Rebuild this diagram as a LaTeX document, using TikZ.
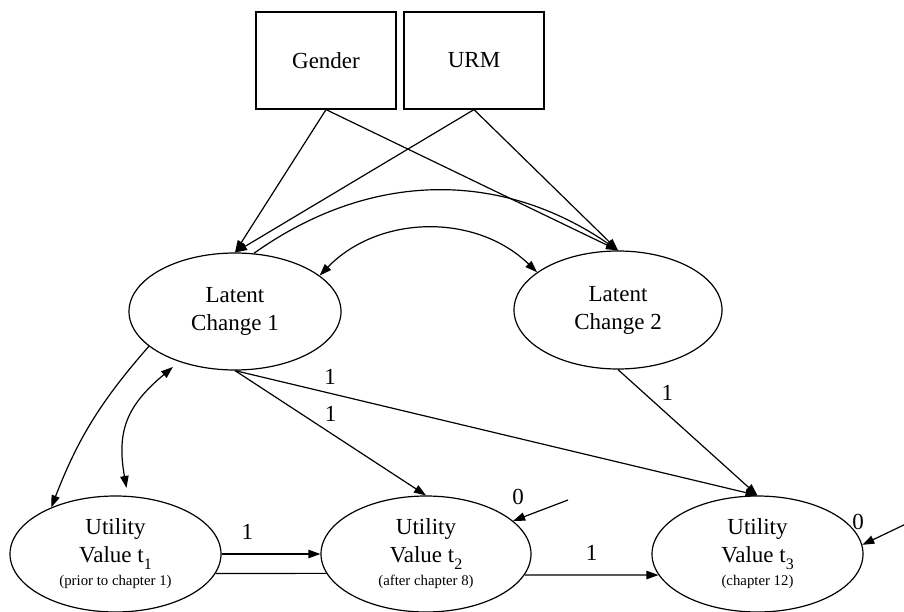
\documentclass[tikz,border=0pt]{standalone}
\usepackage{fontspec}
\setmainfont{Liberation Serif}
\usepackage{tikz}
\usetikzlibrary{arrows.meta,shapes,calc}
\newcommand{\sm}{\fontsize{7.4}{8.5}\selectfont}
\newcommand{\tsub}[1]{\raisebox{-3.5pt}[0pt][0pt]{\fontsize{8}{8}\selectfont #1}}

\begin{document}
\begin{tikzpicture}[x=0.5pt, y=0.5pt, line width=0.6pt,
  every node/.style={font=\fontsize{11.5}{14}\selectfont},
  obs/.style={draw, rectangle, minimum width=70pt, minimum height=48.5pt, inner sep=0pt},
  lat/.style={draw, ellipse, align=center, inner sep=0pt},
  arr/.style={-{Triangle[length=6pt,width=4.2pt]}},
  arrr/.style={{Triangle[length=6pt,width=4.2pt]}-{Triangle[length=6pt,width=4.2pt]}},
  lbl/.style={inner sep=1pt}]

\useasboundingbox (0,0) rectangle (904,611);

% covariates
\node[obs] (gender) at (326,550.5) {Gender};
\node[obs] (urm) at (474,550.5) {URM};

% latent change scores
\node[lat, minimum width=106pt, minimum height=58.5pt] (lc1) at (235,299.5) {Latent\\Change 1};
\node[lat, minimum width=104pt, minimum height=59pt] (lc2) at (618,301) {Latent\\Change 2};

% observed utility value
\node[lat, minimum width=105.5pt, minimum height=58pt] (uv1) at (115.5,57) {Utility\\Value t\tsub{1}\\[-2.5pt]\sm (prior to chapter 1)};
\node[lat, minimum width=105pt, minimum height=58pt] (uv2) at (426,57) {Utility\\Value t\tsub{2}\\[-2.5pt]\sm (after chapter 8)};
\node[lat, minimum width=105.5pt, minimum height=58pt] (uv3) at (757.5,57) {Utility\\Value t\tsub{3}\\[-2.5pt]\sm (chapter 12)};

\foreach \src in {gender,urm} \foreach \dst in {lc1,lc2} \draw[arr] (\src.south) -- (\dst.north);
\draw[arr] (lc1.72) to[bend left=35] (lc2.north);
\draw[arrr] (lc1.23) to[bend left=45] (lc2.155);

\draw[arr] (lc1.202) to[bend right=10] (uv1.144);
\draw[arrr, shorten <=4pt, shorten >=4pt] (lc1.222) to[out=220,in=100,looseness=1.2] (uv1.78);
\draw[arr] (lc1.south) -- node[lbl, pos=0.182, above=3pt] {1} (uv3.north);
\draw[arr] (lc1.south) -- node[lbl, pos=0.5, above=4.5pt] {1} (uv2.north);
\draw[arr] (lc2.south) -- node[lbl, pos=0.28, above right=1pt] {1} (uv3.north);

\draw[arr] (uv1.east) -- node[lbl, pos=0.26, above=6pt] {1} (uv2.west);
\draw (uv1.-11.4) -- (uv2.191.5);
\draw[arr] (uv2.-12.8) -- node[lbl, above=6pt] {1} (uv3.192.8);

% residuals fixed to 0
\coordinate (r2) at (568,111); \coordinate (r3) at (910,89);
\draw[arr] (r2) -- (uv2);
\draw[arr] (r3) -- (uv3.5);
\node[lbl] (z2) at (518,114) {0};
\node[lbl] (z3) at (858,89) {0};
%\draw[arr] (r1) -- (uv1);
\end{tikzpicture}
\end{document}
